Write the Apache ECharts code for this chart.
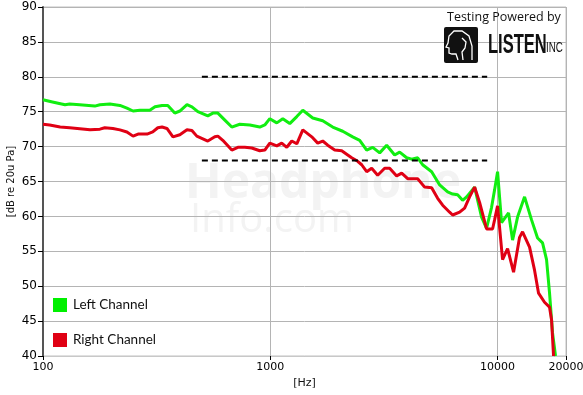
<!DOCTYPE html>
<html><head><meta charset="utf-8">
<script src="https://cdn.jsdelivr.net/npm/echarts@6/dist/echarts.min.js"></script>
<style>html,body{margin:0;padding:0;background:#fff}#c{width:583px;height:395px}</style>
</head><body><div id="c"></div>
<script>
// Frequency (Hz) / level (dB) pairs
const leftFreq = [100,110,125,131,145,169,178,197,218,234,249,267,295,311,334,354,380,400,430,452,480,531,559,588,631,677,734,813,899,946,995,1068,1135,1218,1308,1390,1537,1701,1882,2083,2304,2474,2655,2822,3029,3251,3525,3709,3981,4188,4451,4680,5128,5561,6029,6342,6671,7017,7307,7923,8505,8946,9410,9701,10000,10413,11179,11640,12244,13145,14108,14992,15770,16422,16929,17452,17987];
const leftDb   = [76.7,76.4,76.0,76.1,76.0,75.8,76.0,76.1,75.9,75.5,75.1,75.2,75.2,75.7,75.9,75.9,74.8,75.1,76.0,75.7,75.0,74.4,74.8,74.8,73.8,72.8,73.2,73.1,72.8,73.1,74.0,73.4,74.0,73.3,74.3,75.2,74.1,73.7,72.8,72.2,71.4,70.9,69.5,69.9,69.1,70.2,68.8,69.2,68.4,68.2,68.4,67.4,66.4,64.5,63.5,63.2,63.1,62.3,62.8,64.2,59.9,58.3,61.3,63.8,66.4,59.1,60.5,56.6,59.9,62.8,59.5,56.9,56.2,53.8,49.0,43.3,40.0];
const rightFreq = [100,107,119,131,153,161,178,187,203,218,234,249,262,287,304,320,334,351,373,400,430,452,475,531,570,588,618,677,720,773,829,899,946,995,1068,1123,1182,1243,1308,1390,1522,1617,1701,1789,1921,2062,2191,2281,2424,2524,2655,2793,2968,3186,3351,3598,3785,4022,4451,4776,5128,5450,5733,6152,6342,6808,7161,7532,7923,8334,8946,9506,9701,10000,10519,11066,11759,12495,12880,13826,14543,15145,16093,16929,17275,17630];
const rightDb   = [73.2,73.1,72.8,72.7,72.5,72.4,72.5,72.7,72.6,72.4,72.1,71.5,71.8,71.8,72.1,72.7,72.8,72.6,71.4,71.7,72.4,72.3,71.5,70.8,71.4,71.5,70.9,69.5,69.9,69.9,69.8,69.4,69.5,70.5,70.1,70.5,69.9,70.8,70.4,72.4,71.4,70.5,70.8,70.2,69.5,69.4,68.8,68.4,67.9,67.4,66.4,66.9,65.9,66.9,66.9,65.8,66.2,65.4,65.4,64.2,64.1,62.6,61.6,60.6,60.2,60.6,61.2,62.8,64.2,62.0,58.2,58.2,59.5,61.5,53.8,55.4,52.0,57.0,57.8,55.6,52.3,49.0,47.7,47.0,45.2,40.0];
const refFreq = [500, 9000];
const refHigh = [80, 80];
const refLow  = [68, 68];
const xTicks = [100, 1000, 10000, 20000];
const yMin = 40, yMax = 90, yStep = 5;

const zip = (a, b) => a.map((v, i) => [v, b[i]]);
const chart = echarts.init(document.getElementById('c'), null, {renderer: 'canvas'});
const font = 'DejaVu Sans, Verdana, sans-serif';
chart.setOption({
  animation: false,
  backgroundColor: '#ffffff',
  grid: {left: 43, right: 17, top: 7, bottom: 39, containLabel: false, outerBoundsMode: 'none',
         show: true, borderColor: '#c0c0c0', borderWidth: 1, backgroundColor: 'transparent'},
  legend: {
    orient: 'vertical', left: 53, top: 298, itemGap: 21, padding: 0,
    itemWidth: 14, itemHeight: 14, icon: 'rect',
    data: ['Left Channel', 'Right Channel'],
    textStyle: {fontFamily: 'Lato, Open Sans, sans-serif', fontSize: 13.5, color: '#111', padding: [0,0,0,1]}
  },
  graphic: [
    {type: 'text', left: 185, top: 160, z: 0, silent: true,
     style: {text: 'Headphone', font: 'bold 48px Open Sans, sans-serif', fill: '#f3f3f3'}},
    {type: 'text', left: 190, top: 201, z: 0, silent: true,
     style: {text: 'Info.com', font: '40px Open Sans, sans-serif', fill: '#f3f3f3'}},
    {type: 'text', left: 447, top: 11, z: 10,
     style: {text: 'Testing Powered by', font: '12.5px Open Sans, sans-serif', fill: '#111'}},
    {type: 'rect', left: 444, top: 27, z: 10, shape: {width: 34, height: 36, r: 2}, style: {fill: '#111'}},
    {type: 'polyline', z: 11, shape: {points: [[472,60],[472,46],[469,36],[462,31],[454,31],[449,36],[448,43],[446,47],[449,48],[449,53],[452,54],[456,54],[458,60]]},
     style: {stroke: '#fff', lineWidth: 1.3, fill: null}},
    {type: 'polyline', z: 11, shape: {points: [[462,38],[466,42],[465,48],[462,52],[463,60]]},
     style: {stroke: '#fff', lineWidth: 1.3, fill: null}},
    {type: 'text', x: 488, y: 31, scaleX: 0.59, z: 10,
     style: {text: 'LISTEN', font: 'bold 28px Liberation Sans, Arial, sans-serif', fill: '#111'}},
    {type: 'text', x: 546, y: 41, scaleX: 0.7, z: 10,
     style: {text: 'INC', font: '14px Liberation Sans, Arial, sans-serif', fill: '#111'}}
  ],
  xAxis: {
    type: 'log', logBase: 10, min: 100, max: 20000,
    name: '[Hz]', nameLocation: 'middle', nameGap: 22, nameMoveOverlap: false,
    nameTextStyle: {fontFamily: font, fontSize: 11, color: '#111'},
    axisLine: {show: true, lineStyle: {color: '#c8c8c8', width: 1}},
    axisTick: {show: true, length: 4, lineStyle: {color: '#000'}},
    minorTick: {show: false},
    axisLabel: {fontFamily: font, fontSize: 11, color: '#000', margin: 6,
      formatter: v => { const r = Math.round(v); return xTicks.includes(r) ? String(r) : ''; }},
    splitLine: {show: true, lineStyle: {color: '#b4b4b4', width: 1}}
  },
  yAxis: {
    type: 'value', min: yMin, max: yMax, interval: yStep,
    name: '[dB re 20u Pa]', nameLocation: 'middle', nameRotate: 90, nameGap: 27, nameMoveOverlap: false,
    nameTextStyle: {fontFamily: font, fontSize: 10, color: '#111'},
    axisLine: {show: true, lineStyle: {color: '#555', width: 2}},
    axisTick: {show: true, length: 5, lineStyle: {color: '#000'}},
    axisLabel: {fontFamily: font, fontSize: 12, color: '#000', margin: 6},
    splitLine: {show: true, lineStyle: {color: '#b4b4b4', width: 1}}
  },
  series: [
    {name: 'Left Channel', type: 'line', data: zip(leftFreq, leftDb), showSymbol: false, symbol: 'none',
     color: '#00f000', lineStyle: {color: '#11ee11', width: 3}, z: 3},
    {name: 'Right Channel', type: 'line', data: zip(rightFreq, rightDb), showSymbol: false, symbol: 'none',
     color: '#e00014', lineStyle: {color: '#e00014', width: 3}, z: 4},
    {name: 'refHigh', type: 'line', data: zip(refFreq, refHigh), symbol: 'none',
     lineStyle: {color: '#000', width: 2, type: [6, 4]}, z: 5},
    {name: 'refLow', type: 'line', data: zip(refFreq, refLow), symbol: 'none',
     lineStyle: {color: '#000', width: 2, type: [6, 4]}, z: 5}
  ]
});
</script></body></html>
